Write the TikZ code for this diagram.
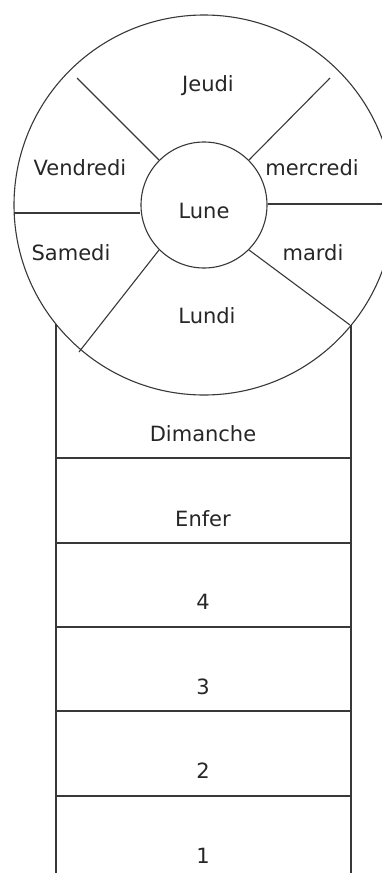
\documentclass[tikz,border=0pt]{standalone}
\usepackage{fontspec}
\setmainfont{DejaVu Sans}
\begin{document}
\begin{tikzpicture}[x=1pt,y=-1pt,
  line/.style={draw=black!78, line width=1.1pt},
  lbl/.style={anchor=base, inner sep=0pt, text=black!85, font=\fontsize{21}{24}\selectfont},
  ring/.style={circle, line, inner sep=0pt}]
\useasboundingbox (0,0) rectangle (382,873);
\clip (0,0) rectangle (382,873);
% wheel
\node[ring, minimum size=380pt] (outer) at (204,205) {};
\node[ring, minimum size=126pt] (lune) at (204,205) {};
\node[lbl] (lunetxt) at (204,218) {Lune};
% free ends of the spokes
\coordinate (ul) at (77,78);
\coordinate (ur) at (330,78);
\coordinate (ll) at (79,352);
\coordinate (lr) at (350,325);
\coordinate (lw) at (14,213);
\coordinate (re) at (394,204);
\draw[line] (lune.135) -- (ul);
\draw[line] (lune.45) -- (ur);
\draw[line] (lune.225) -- (ll);
\draw[line] (lune.315) -- (lr);
\draw[line] (lw) -- (lw -| lune.west);
\draw[line] (lune.east |- re) -- (re);
% day labels
\node[lbl] (jeudi) at (208,91) {Jeudi};
\node[lbl] (vendredi) at (80,175) {Vendredi};
\node[lbl] (mercredi) at (312,175) {mercredi};
\node[lbl] (samedi) at (71,260) {Samedi};
\node[lbl] (mardi) at (313,260) {mardi};
\node[lbl] (lundi) at (207,323) {Lundi};
% tower
\coordinate (tl) at (56,324);
\coordinate (tr) at (351,325.4);
\coordinate (bl) at (56,873);
\coordinate (br) at (351,873);
\draw[line] (tl) -- (bl);
\draw[line] (tr) -- (br);
\foreach \y/\n in {458/a,543/b,627/c,711/d,796/e}{
  \coordinate (h\n l) at (56,\y);
  \coordinate (h\n r) at (351,\y);
  \draw[line] (h\n l) -- (h\n r);
}
\node[lbl] (dimanche) at (203,441) {Dimanche};
\node[lbl] (enfer) at (203,526) {Enfer};
\node[lbl] (quatre) at (203,609) {4};
\node[lbl] (trois) at (203,694) {3};
\node[lbl] (deux) at (203,778) {2};
\node[lbl] (un) at (203,863) {1};
\end{tikzpicture}
\end{document}
